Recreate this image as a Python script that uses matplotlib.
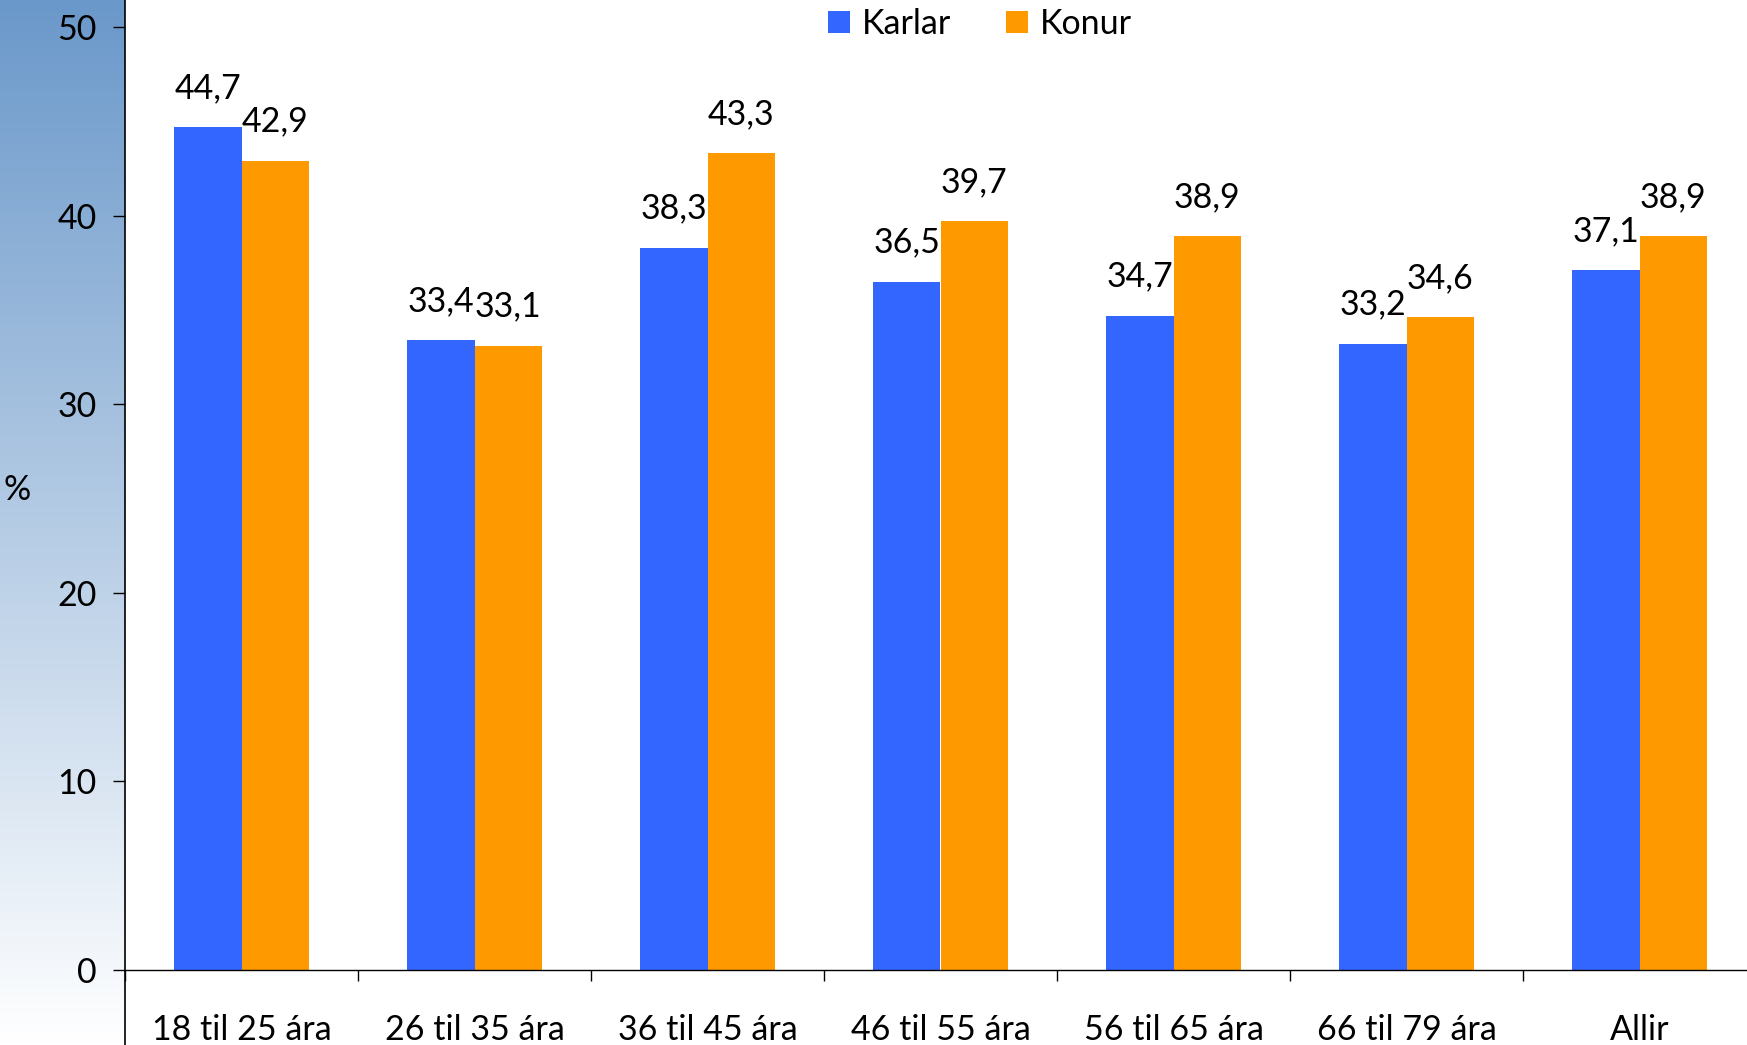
import matplotlib
matplotlib.use("Agg")
import matplotlib.pyplot as plt
import numpy as np
from matplotlib.lines import Line2D

plt.rcParams['font.family'] = ['Lato', 'DejaVu Sans']

categories = ["18 til 25 ára", "26 til 35 ára", "36 til 45 ára", "46 til 55 ára",
              "56 til 65 ára", "66 til 79 ára", "Allir"]
karlar = [44.7, 33.4, 38.3, 36.5, 34.7, 33.2, 37.1]
konur = [42.9, 33.1, 43.3, 39.7, 38.9, 34.6, 38.9]
series_names = ["Karlar", "Konur"]
y_ticks = [0, 10, 20, 30, 40, 50]

W, H = 1747, 1045
DPI = 100
fig = plt.figure(figsize=(W / DPI, H / DPI), dpi=DPI)
fig.patch.set_facecolor("white")

x_axis_px = 125
zero_px = 970
top_px = 27
cat_w_px = 233.0

# Blue-to-white gradient panel behind the value axis
grad_ax = fig.add_axes([0, 0, x_axis_px / W, 1], zorder=0)
top_col = np.array([106, 152, 202]) / 255.0
bot_col = np.array([255, 255, 255]) / 255.0
t = np.linspace(0, 1, 400)[:, None]
grad = top_col[None, :] * (1 - t) + bot_col[None, :] * t
grad_img = np.repeat(grad[:, None, :], 2, axis=1)
grad_ax.imshow(grad_img, aspect="auto", extent=[0, 1, 0, 1], origin="upper")
grad_ax.set_axis_off()

ax_left = x_axis_px / W
ax_width = 7 * cat_w_px / W
ax_bottom = 1 - zero_px / H
ax_height = (zero_px - top_px) / H
ax = fig.add_axes([ax_left, ax_bottom, ax_width, ax_height], zorder=1)
ax.patch.set_alpha(0)

x = np.arange(len(categories))
bw = 0.288
blue = "#3366FF"
orange = "#FF9900"
b1 = ax.bar(x - bw / 2, karlar, bw, color=blue, label=series_names[0], zorder=2)
b2 = ax.bar(x + bw / 2, konur, bw, color=orange, label=series_names[1], zorder=2)

fs = 24.5
for bars, vals in ((b1, karlar), (b2, konur)):
    for r, v in zip(bars, vals):
        ax.annotate(f"{v:.1f}".replace(".", ","),
                    (r.get_x() + r.get_width() / 2, v),
                    xytext=(0, 21), textcoords="offset points",
                    ha="center", va="baseline", fontsize=fs, color="black",
                    zorder=3)

ax.set_xlim(-0.5, len(categories) - 0.5)
ax.set_ylim(0, 50)
ax.set_yticks(y_ticks)
ax.set_yticklabels([str(v) for v in y_ticks], fontsize=fs)
ax.tick_params(axis="y", direction="out", length=8.5, width=1.0, pad=12,
               colors="black")
ax.set_xticks(x)
ax.set_xticklabels(categories, fontsize=fs)
ax.set_xticks(np.arange(len(categories) + 1) - 0.5, minor=True)
ax.tick_params(axis="x", which="major", length=0, pad=32)
ax.tick_params(axis="x", which="minor", direction="out", length=8, width=1.0)

for s in ("top", "right", "left"):
    ax.spines[s].set_visible(False)
ax.spines["bottom"].set_linewidth(1.0)

# Value axis line spanning the full height of the figure
fig.add_artist(Line2D([ax_left, ax_left], [0, 1], transform=fig.transFigure,
                      color="black", linewidth=1.2, zorder=5))

fig.text(17 / W, 1 - 490 / H, "%", fontsize=fs, ha="center", va="center")

leg = fig.legend(handles=[b1, b2], labels=series_names, loc="center",
                 bbox_to_anchor=(980 / W, 1 - 24 / H), ncol=2, frameon=False,
                 fontsize=fs, handlelength=0.65, handleheight=0.65,
                 handletextpad=0.35, columnspacing=1.6)

fig.savefig("out.png", dpi=DPI)
